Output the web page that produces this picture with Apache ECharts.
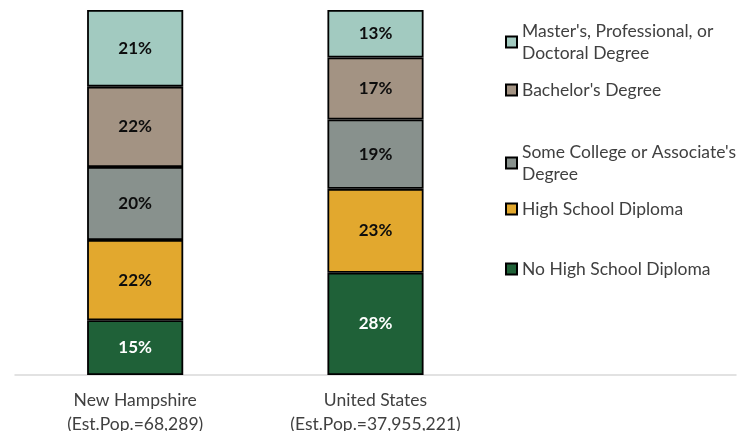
<!DOCTYPE html>
<html>
<head>
<meta charset="utf-8">
<script src="https://cdn.jsdelivr.net/npm/echarts@6/dist/echarts.min.js"></script>
<style>html,body{margin:0;padding:0;background:#fff;overflow:hidden}#c{width:756px;height:431px}</style>
</head>
<body>
<div id="c"></div>
<script>
const categories = ['New Hampshire\n(Est.Pop.=68,289)', 'United States\n(Est.Pop.=37,955,221)', ''];
const seriesNames = ['No High School Diploma', 'High School Diploma', "Some College or Associate's Degree", "Bachelor's Degree", "Master's, Professional, or Doctoral Degree"];
const noHighSchool = [15, 28, null];
const highSchool = [22, 23, null];
const someCollege = [20, 19, null];
const bachelors = [22, 17, null];
const masters = [21, 13, null];
const legendLabels = {
  "Master's, Professional, or Doctoral Degree": "Master's, Professional, or\nDoctoral Degree",
  "Bachelor's Degree": "Bachelor's Degree",
  "Some College or Associate's Degree": "Some College or Associate's\nDegree",
  "High School Diploma": "High School Diploma",
  "No High School Diploma": "No High School Diploma"
};

const colors = ['#1f6138', '#e2a82e', '#88918d', '#a39383', '#a2cac0'];
const labelColors = ['#ffffff', '#0d0d0d', '#0d0d0d', '#0d0d0d', '#0d0d0d'];
const allData = [noHighSchool, highSchool, someCollege, bachelors, masters];
const FONT = 'Lato, "Open Sans", sans-serif';

const series = seriesNames.map((n, i) => ({
  name: n,
  type: 'bar',
  stack: 'total',
  barWidth: '40%',
  data: allData[i],
  itemStyle: { color: colors[i], borderColor: '#000', borderWidth: 1.8 },
  label: {
    show: true, position: 'inside',
    formatter: p => p.value == null ? '' : p.value + '%',
    color: labelColors[i], fontWeight: 'bold', fontSize: 17, fontFamily: FONT
  }
}));

const legendTops = { "Master's, Professional, or Doctoral Degree": 9, "Bachelor's Degree": 79, "Some College or Associate's Degree": 130, "High School Diploma": 198, "No High School Diploma": 258 };
const twoLine = { "Master's, Professional, or Doctoral Degree": true, "Some College or Associate's Degree": true };

const legends = seriesNames.map(n => ({
  data: [n],
  left: 505,
  top: legendTops[n],
  padding: 0,
  icon: 'rect',
  itemWidth: 11,
  itemHeight: 11,
  selectedMode: false,
  formatter: name => legendLabels[name],
  textStyle: {
    color: '#404040', fontSize: 17.5, fontFamily: FONT, lineHeight: 22,
    padding: twoLine[n] ? [22, 0, 0, 0] : 0
  }
}));

const chart = echarts.init(document.getElementById('c'));
chart.setOption({
  animation: false,
  legend: legends,
  grid: { left: 15, right: 20, top: 10, bottom: 56, containLabel: false, outerBoundsMode: 'none' },
  xAxis: {
    type: 'category',
    data: categories,
    axisLine: { lineStyle: { color: '#d9d9d9', width: 1.5 } },
    axisTick: { show: false },
    axisLabel: { color: '#404040', fontSize: 17.5, fontFamily: FONT, lineHeight: 24, margin: 13, interval: 0 }
  },
  yAxis: { type: 'value', min: 0, max: 100, show: false },
  series: series
});
</script>
</body>
</html>
